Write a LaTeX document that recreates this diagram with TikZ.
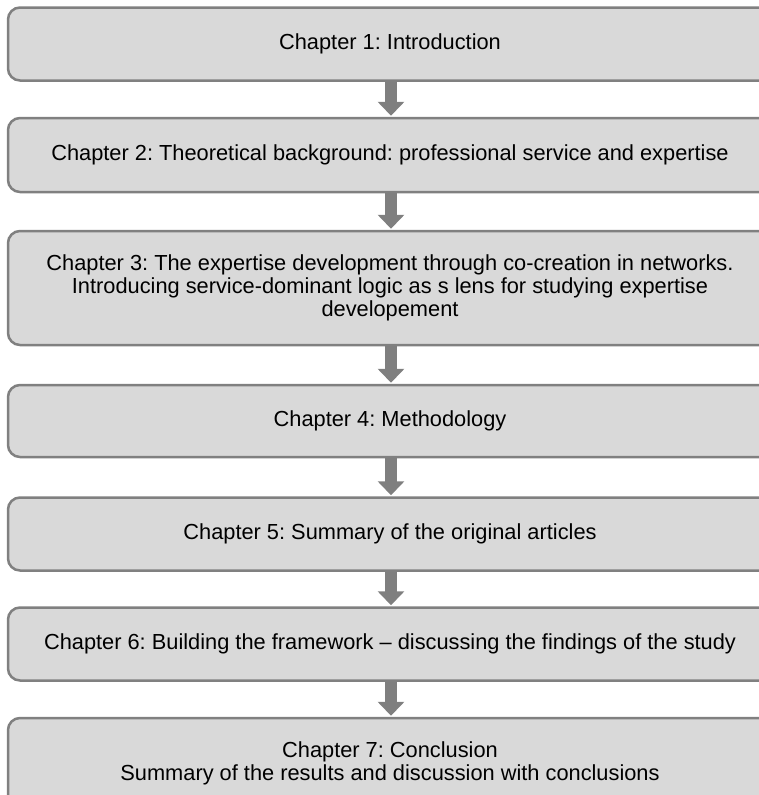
\documentclass[tikz,border=0pt]{standalone}
\usepackage{fontspec}
\setmainfont{Liberation Sans}
\usetikzlibrary{arrows.meta}
\definecolor{boxfill}{HTML}{D9D9D9}
\definecolor{boxline}{HTML}{808080}
\definecolor{arrowcol}{HTML}{7F7F7F}
\frenchspacing
\begin{document}
\begin{tikzpicture}[x=1pt,y=-1pt,
  chapbox/.style={draw=boxline, fill=boxfill, line width=2.5pt, rounded corners=12pt,
    minimum width=764pt, align=center, inner sep=0pt,
    font=\fontsize{21.8}{23}\selectfont},
  flowarrow/.style={draw=arrowcol, line width=12pt,
    -{Triangle[width=26pt,length=14pt]}, arrowcol}]
\useasboundingbox (0,0) rectangle (758,795);
\node[chapbox, minimum height=73pt] (b1) at (390,44) {Chapter 1: Introduction};
\node[chapbox, minimum height=74pt] (b2) at (390,155) {Chapter 2: Theoretical background: professional service and expertise};
\node[chapbox, minimum height=114pt] (b3) at (390,288) {Chapter 3: The expertise development through co-creation in networks.\\Introducing service-dominant logic as s lens for studying expertise\\developement};
\node[chapbox, minimum height=72pt] (b4) at (390,421) {Chapter 4: Methodology};
\node[chapbox, minimum height=73pt] (b5) at (390,534) {Chapter 5: Summary of the original articles};
\node[chapbox, minimum height=73pt] (b6) at (390,644) {Chapter 6: Building the framework -- discussing the findings of the study};
\node[chapbox, minimum height=90pt] (b7) at (390,763) {Chapter 7: Conclusion\\Summary of the results and discussion with conclusions};
\draw[flowarrow] ([xshift=1pt]b1.south) -- ([xshift=1pt,yshift=1pt]b2.north);
\draw[flowarrow] ([xshift=1pt]b2.south) -- ([xshift=1pt,yshift=1pt]b3.north);
\draw[flowarrow] ([xshift=1pt]b3.south) -- ([xshift=1pt,yshift=1pt]b4.north);
\draw[flowarrow] ([xshift=1pt]b4.south) -- ([xshift=1pt,yshift=1pt]b5.north);
\draw[flowarrow] ([xshift=1pt]b5.south) -- ([xshift=1pt,yshift=1pt]b6.north);
\draw[flowarrow] ([xshift=1pt]b6.south) -- ([xshift=1pt,yshift=1pt]b7.north);
\end{tikzpicture}
\end{document}
